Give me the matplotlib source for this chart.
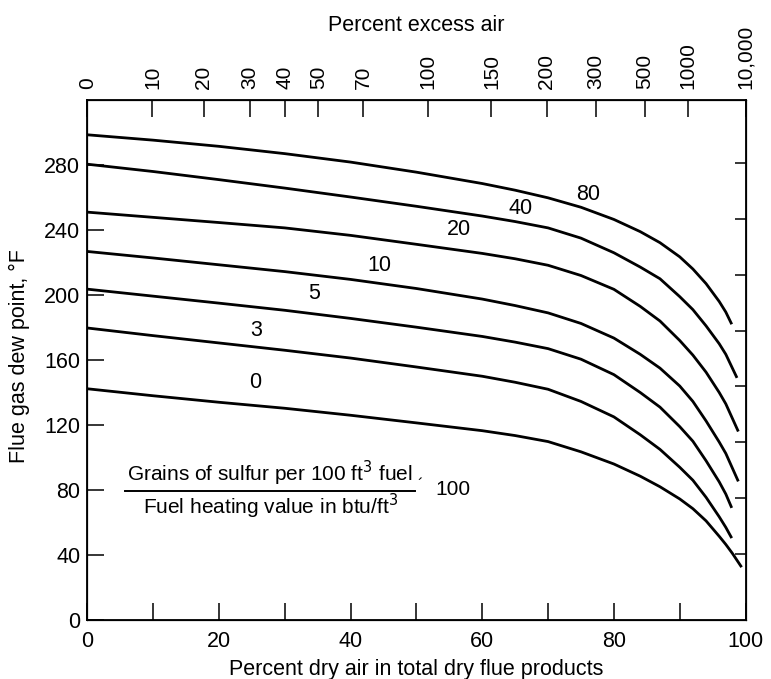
import matplotlib
matplotlib.use("Agg")
import matplotlib.pyplot as plt

plt.rcParams['font.family'] = ['Liberation Sans', 'DejaVu Sans']

# curve values: percent dry air (x) -> dew point, F (y)
x_grid = [0, 10, 20, 30, 40, 50, 60, 65, 70, 75, 80, 84, 87, 90, 92, 94, 96, 97]

y_80 = [298.6, 295.3, 291.5, 287, 281.8, 275.6, 268.6, 264.5, 259.8, 254, 246.5,
        239, 232.2, 223.5, 216, 207, 196, 189.5]
end_80 = (97.9, 182)

y_40 = [280.5, 276, 271, 265.8, 260.3, 254.6, 248.6, 245.2, 241.3, 235, 226,
        217.2, 210, 199, 191, 181, 170, 163.5]
end_40 = (98.7, 149)

y_20 = [251, 247.8, 244.6, 241.3, 236.7, 231.2, 225.6, 222.3, 218.3, 212, 203.5,
        193, 184, 172, 163, 152.5, 140, 133]
end_20 = (98.9, 116)

y_10 = [226.8, 222.8, 218.6, 214.4, 209.6, 204, 197.5, 193.5, 189, 182.5, 173.5,
        163.5, 155, 144, 134.5, 122.5, 109.5, 102.5]
end_10 = (98.9, 85.3)

y_5 = [203.6, 199.3, 195, 190.6, 185.6, 180.2, 174.5, 171, 167, 160.5, 151,
       140, 131, 119, 110, 98, 85, 77.5]
end_5 = (97.9, 69)

y_3 = [179.7, 175, 170.5, 166, 161.2, 155.7, 150, 146.3, 142, 134.5, 125,
       114, 105, 94, 86, 75.5, 63.5, 57]
end_3 = (97.9, 50.4)

y_0 = [142.3, 138, 134, 130.3, 126, 121.3, 116.5, 113.5, 109.8, 103.5, 96,
       88.5, 82, 74.5, 68.5, 61, 51.5, 46.5]
end_0 = [(98, 41), (99.4, 32.5)]

# curve labels and where they sit
curve_names = ['80', '40', '20', '10', '5', '3', '0']
name_x = [76.1, 65.8, 56.4, 44.3, 34.5, 25.6, 25.5]
name_y = [262, 253.4, 240.6, 218.4, 201, 177.9, 146]

# top scale: percent excess air and where it falls on the bottom scale
excess_labels = ['0', '10', '20', '30', '40', '50', '70', '100', '150',
                 '200', '300', '500', '1000', '10,000']
excess_pos = [0, 9.9, 17.7, 24.7, 30.1, 35.1, 41.9, 51.8, 61.4,
              69.8, 77.3, 84.7, 91.2, 100]

# unlabelled ticks on the right edge
right_ticks = [40.7, 75, 109.6, 143.9, 177.8, 212.4, 246.8, 281]

curves = [
    (x_grid + [end_80[0]], y_80 + [end_80[1]]),
    (x_grid + [end_40[0]], y_40 + [end_40[1]]),
    (x_grid + [end_20[0]], y_20 + [end_20[1]]),
    (x_grid + [end_10[0]], y_10 + [end_10[1]]),
    (x_grid + [end_5[0]], y_5 + [end_5[1]]),
    (x_grid + [end_3[0]], y_3 + [end_3[1]]),
    (x_grid + [p[0] for p in end_0], y_0 + [p[1] for p in end_0]),
]

fig = plt.figure(figsize=(7.71, 6.79), dpi=100)
ax = fig.add_axes([0.1132, 0.0869, 0.8538, 0.7658])

for xs, ys in curves:
    ax.plot(xs, ys, color='black', lw=2.0, solid_capstyle='butt',
            solid_joinstyle='round')

for name, tx, ty in zip(curve_names, name_x, name_y):
    ax.text(tx, ty, name, fontsize=15.5, ha='center', va='center')

ax.set_xlim(0, 100)
ax.set_ylim(0, 320)
ax.set_xticks(range(0, 101, 20))
ax.set_xticks(range(10, 100, 20), minor=True)
ax.set_yticks(range(0, 281, 40))
ax.tick_params(which='both', direction='in', length=12, width=1.1,
               labelsize=15.5, pad=5)
ax.tick_params(axis='x', pad=8)
for sp in ax.spines.values():
    sp.set_linewidth(1.3)

ax.set_xlabel('Percent dry air in total dry flue products', fontsize=15.5,
              labelpad=5)
ax.set_ylabel('Flue gas dew point, °F', fontsize=15.5)
ax.yaxis.set_label_coords(-0.087, 0.508)

# fraction annotation
ax.text(27.8, 90.5, 'Grains of sulfur per 100 ft$^3$ fuel', fontsize=15,
        ha='center', va='center')
ax.plot([5.7, 49.8], [79.6, 79.6], color='black', lw=1.4)
ax.text(27.8, 69.6, 'Fuel heating value in btu/ft$^3$', fontsize=15,
        ha='center', va='center')
ax.text(50.6, 83, '\u00b4', fontsize=12, ha='center', va='center')
ax.text(55.6, 80.2, '100', fontsize=15, ha='center', va='center')

top = ax.twiny()
top.set_xlim(0, 100)
top.set_xticks(excess_pos, excess_labels, rotation=90)
top.tick_params(direction='in', length=12, width=1.1, labelsize=15, pad=8)
fig.text(0.540, 0.962, 'Percent excess air', fontsize=15.5,
         ha='center', va='center')

right = ax.twinx()
right.set_ylim(0, 320)
right.set_yticks(right_ticks)
right.tick_params(direction='in', length=8, width=1.1, labelright=False)

fig.savefig('out.png', dpi=100)
